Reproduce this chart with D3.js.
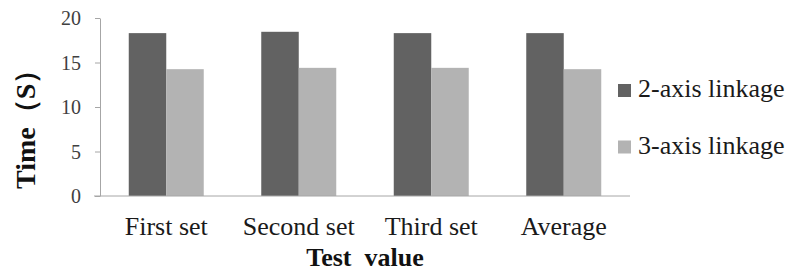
<!DOCTYPE html>
<html>
<head>
<meta charset="utf-8">
<script src="https://d3js.org/d3.v7.min.js"></script>
<style>
  body { margin: 0; background: #fff; }
  svg { display: block; }
</style>
</head>
<body>
<div id="chart"></div>
<script>
// data
var categories = ["First set", "Second set", "Third set", "Average"];
var seriesNames = ["2-axis linkage", "3-axis linkage"];
var twoAxis = [18.3, 18.45, 18.3, 18.3];
var threeAxis = [14.25, 14.4, 14.4, 14.25];
var yTicks = [0, 5, 10, 15, 20];
var colors = ["#626262", "#b3b3b3"];

var w = 789,
    h = 273;
// plot edges (named so they don't clash with window.top)
var plotLeft = 100, plotRight = 630, plotTop = 18, plotBottom = 196;
var serif = "'Liberation Serif', 'Times New Roman', serif";

var rows = categories.map(function(c, i) {
    return {cat: c, values: [twoAxis[i], threeAxis[i]]};
});

var svg = d3.select("#chart")
    .append("svg")
    .attr("width", w)
    .attr("height", h);

var x0 = d3.scaleBand()
    .domain(categories)
    .range([plotLeft, plotRight])
    .paddingInner(0.434)
    .paddingOuter(0.217);

var x1 = d3.scaleBand()
    .domain(d3.range(seriesNames.length))
    .range([0, x0.bandwidth()]);

var y = d3.scaleLinear()
    .domain([0, 20])
    .range([plotBottom, plotTop]);

// bars
var groups = svg.selectAll(".grp")
    .data(rows)
    .enter()
    .append("g")
    .attr("class", "grp")
    .attr("transform", function(d) { return "translate(" + x0(d.cat) + ",0)"; });

groups.selectAll("rect")
    .data(function(d) { return d.values; })
    .enter()
    .append("rect")
    .attr("x", function(d, i) { return x1(i); })
    .attr("y", function(d) { return y(d); })
    .attr("width", x1.bandwidth())
    .attr("height", function(d) { return y(0) - y(d); })
    .style("fill", function(d, i) { return colors[i]; });

// y axis
var yAxis = svg.append("g")
    .attr("transform", "translate(" + plotLeft + ",0)")
    .call(d3.axisLeft(y).tickValues(yTicks).tickSize(5).tickSizeOuter(0).tickPadding(14));

yAxis.select(".domain").style("stroke", "#a6a6a6");
yAxis.selectAll(".tick line").style("stroke", "#a6a6a6");
yAxis.selectAll(".tick text")
    .style("font-family", serif)
    .style("font-size", "20px")
    .attr("dy", "0.34em")
    .style("fill", "#404040");

// x axis (baseline + category labels)
var xAxis = svg.append("g")
    .attr("transform", "translate(0," + plotBottom + ")")
    .call(d3.axisBottom(x0).tickSize(0).tickSizeOuter(0).tickPadding(21));

xAxis.select(".domain").remove();
xAxis.selectAll(".tick text")
    .style("font-family", serif)
    .style("font-size", "26px")
    .style("fill", "#1a1a1a");

svg.append("line")
    .attr("x1", plotLeft - 6)
    .attr("x2", plotRight)
    .attr("y1", y(0))
    .attr("y2", y(0))
    .style("stroke", "#a6a6a6")
    .style("stroke-width", "1px");

// axis titles
svg.append("text")
    .attr("transform", "translate(35,189) rotate(-90)")
    .attr("text-anchor", "start")
    .style("font-family", serif)
    .style("font-size", "28px")
    .style("font-weight", "bold")
    .style("fill", "#111")
    .text("Time（S）");

svg.append("text")
    .attr("x", (plotLeft + plotRight) / 2)
    .attr("y", 266)
    .attr("text-anchor", "middle")
    .style("font-family", serif)
    .style("font-size", "26px")
    .style("font-weight", "bold")
    .style("white-space", "pre")
    .style("fill", "#111")
    .text("Test  value");

// legend
var legend = svg.selectAll(".legend")
    .data(seriesNames)
    .enter()
    .append("g")
    .attr("class", "legend")
    .attr("transform", function(d, i) { return "translate(618," + (84 + i * 56.5) + ")"; });

legend.append("rect")
    .attr("width", 13)
    .attr("height", 13)
    .style("fill", function(d, i) { return colors[i]; });

legend.append("text")
    .attr("x", 20)
    .attr("y", 13)
    .style("font-family", serif)
    .style("font-size", "26px")
    .style("fill", "#1a1a1a")
    .text(function(d) { return d; });
</script>
</body>
</html>
